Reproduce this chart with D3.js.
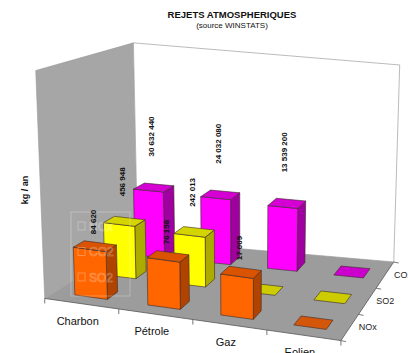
<!DOCTYPE html>
<html><head><meta charset="utf-8">
<script src="https://cdn.jsdelivr.net/npm/d3@7/dist/d3.min.js"></script>
<style>html,body{margin:0;padding:0;background:#fff;}svg{display:block;font-family:"Liberation Sans",Arial,sans-serif;}</style>
</head><body>
<script>
// ---- data ----
const categories = ["Charbon", "Pétrole", "Gaz", "Eolien"];
const seriesNames = ["NOx", "SO2", "CO2"];
const noxValues = [84620, 76158, 17009, 0];
const so2Values = [456948, 242013, 0, 0];
const co2Values = [30632440, 24032080, 13539200, 0];
const legendLabels = ["NOx", "CO2", "SO2"];
const title = "REJETS ATMOSPHERIQUES";
const subtitle = "(source WINSTATS)";
const yTitle = "kg / an";

const seriesValues = [noxValues, so2Values, co2Values];

// ---- layout ----
const W = 408, H = 353;
const svg = d3.select("body").append("svg").attr("width", W).attr("height", H);

const A00 = [75, 295], A10 = [294, 325], A01 = [135, 255], A11 = [334, 275];
function floorPt(s, t) {
  const x = A00[0] + s * (A10[0] - A00[0]) + t * (A01[0] - A00[0]) + s * t * (A11[0] - A10[0] - A01[0] + A00[0]);
  const y = A00[1] + s * (A10[1] - A00[1]) + t * (A01[1] - A00[1]) + s * t * (A11[1] - A10[1] - A01[1] + A00[1]);
  return [x, y];
}
const T0 = -0.16, T1 = 1.34, S0 = -0.093, S1 = 1.24;
function proj(s, t, h) {
  const [x, y] = floorPt(s, t);
  const k = 1 + 0.157 * (T1 - t) / (T1 - T0);
  const hh = h * k;
  return [x + (x - 242) * 0.0002 * hh, y - hh];
}
const xBand = d3.scaleBand().domain(categories).range([S0, S1]).paddingInner(0.555).paddingOuter(0.2775);
const zBand = d3.scaleBand().domain(seriesNames).range([T0, T1]).paddingInner(0.64).paddingOuter(0.32);
const yScale = d3.scaleLog().domain([1, 1e8]).range([0, 68]).clamp(true);
const wallH = 197;
const hOf = v => v > 0 ? yScale(v) : 0;

const colors = {
  NOx: {front: "#FF6600", top: "#D95300", side: "#B04300", flat: "#D4560A"},
  SO2: {front: "#FFFF00", top: "#D4D400", side: "#ABAB00", flat: "#CCCC00"},
  CO2: {front: "#FF00FF", top: "#D400D4", side: "#A000A0", flat: "#CC00CC"}
};
const line = d3.line();
const poly = pts => line(pts) + "Z";

// walls and floor
const g = svg.append("g");
g.append("path").attr("d", poly([proj(S0, T0, 0), proj(S0, T1, 0), proj(S0, T1, wallH), proj(S0, T0, wallH)]))
  .attr("fill", "#a6a6a6").attr("stroke", "#999").attr("stroke-width", 0.6);
g.append("path").attr("d", poly([proj(S0, T1, 0), proj(S1, T1, 0), proj(S1, T1, wallH), proj(S0, T1, wallH)]))
  .attr("fill", "#ffffff").attr("stroke", "#aaa").attr("stroke-width", 0.8);
g.append("path").attr("d", poly([proj(S0, T0, 0), proj(S1, T0, 0), proj(S1, T1, 0), proj(S0, T1, 0)]))
  .attr("fill", "#9c9c9c").attr("stroke", "none");
g.append("path").attr("d", line([proj(S0, T0, 0), proj(S1, T0, 0), proj(S1, T1, 0)]))
  .attr("fill", "none").attr("stroke", "#555").attr("stroke-width", 0.8);
const sTicks = categories.map(c => xBand(c) - xBand.step() * xBand.paddingInner() / 2).concat([S1]);
sTicks.forEach(s => {
  const p = proj(s, T0, 0);
  g.append("line").attr("x1", p[0]).attr("y1", p[1]).attr("x2", p[0]).attr("y2", p[1] + 5)
    .attr("stroke", "#555").attr("stroke-width", 0.8);
});
const tTicks = seriesNames.map(n => zBand(n) - zBand.step() * zBand.paddingInner() / 2).concat([T1]);
tTicks.forEach(t => {
  const p = proj(S1, t, 0);
  g.append("line").attr("x1", p[0]).attr("y1", p[1]).attr("x2", p[0] + 5).attr("y2", p[1] + 1)
    .attr("stroke", "#555").attr("stroke-width", 0.8);
});

// bars, back row first
const bars = svg.append("g");
const strokeC = "#3a2a2a", strokeW = 0.6;
for (let j = seriesNames.length - 1; j >= 0; j--) {
  const name = seriesNames[j];
  const c = colors[name];
  const t0 = zBand(name), t1 = t0 + zBand.bandwidth();
  categories.forEach((cat, i) => {
    const v = seriesValues[j][i];
    const s0 = xBand(cat), s1 = s0 + xBand.bandwidth();
    const h = hOf(v);
    const face = (pts, fill) => bars.append("path").attr("d", poly(pts)).attr("fill", fill)
      .attr("stroke", strokeC).attr("stroke-width", strokeW).attr("stroke-linejoin", "round");
    if (h <= 0) {
      face([proj(s0, t0, 0), proj(s1, t0, 0), proj(s1, t1, 0), proj(s0, t1, 0)], c.flat);
      return;
    }
    face([proj(s1, t0, 0), proj(s1, t1, 0), proj(s1, t1, h), proj(s1, t0, h)], c.side);
    face([proj(s0, t0, 0), proj(s1, t0, 0), proj(s1, t0, h), proj(s0, t0, h)], c.front);
    face([proj(s0, t0, h), proj(s1, t0, h), proj(s1, t1, h), proj(s0, t1, h)], c.top);
  });
}

// faint ghost legend
const lg = svg.append("g").attr("opacity", 0.35);
lg.append("rect").attr("x", 71).attr("y", 212).attr("width", 59).attr("height", 84)
  .attr("fill", "none").attr("stroke", "#ffffff").attr("stroke-width", 0.8);
legendLabels.forEach((l, i) => {
  const y = 222 + i * 25.5;
  lg.append("rect").attr("x", 78).attr("y", y).attr("width", 7).attr("height", 8)
    .attr("fill", "none").attr("stroke", "#ffffff").attr("stroke-width", 0.8);
  lg.append("text").attr("x", 89).attr("y", y + 8.5).text(l)
    .attr("font-size", 12).attr("fill", "none").attr("stroke", "#ffffff").attr("stroke-width", 0.6);
});

// value labels
const fmt = v => d3.format(",")(v).replace(/,/g, " ");
const labelGap = {NOx: 12, SO2: 25, CO2: 31};
const labels = svg.append("g");
seriesNames.forEach((name, j) => {
  const tc = zBand(name) + zBand.bandwidth() / 2;
  categories.forEach((cat, i) => {
    const v = seriesValues[j][i];
    if (!(v > 0)) return;
    const sc = xBand(cat) + xBand.bandwidth() / 2;
    const p = proj(sc, tc, hOf(v));
    const x = p[0] - 2, y = p[1] - labelGap[name];
    labels.append("text").attr("transform", `translate(${x},${y}) rotate(-90)`)
      .attr("dominant-baseline", "central").attr("font-size", 8).attr("font-weight", "bold")
      .attr("fill", "#111").text(fmt(v));
  });
});

// category labels
categories.forEach(cat => {
  const p = proj(xBand(cat) + xBand.bandwidth() / 2, T0, 0);
  svg.append("text").attr("x", p[0] - 4).attr("y", p[1] + 17).attr("text-anchor", "middle")
    .attr("dominant-baseline", "central").attr("font-size", 11).attr("fill", "#111").text(cat);
});
// series (depth) labels
seriesNames.forEach(name => {
  const p = proj(S1, zBand(name) + zBand.bandwidth() / 2, 0);
  svg.append("text").attr("x", p[0] + 9).attr("y", p[1]).attr("dominant-baseline", "central")
    .attr("font-size", 9).attr("fill", "#222").text(name);
});

// titles
svg.append("text").attr("x", 232).attr("y", 18).attr("text-anchor", "middle")
  .attr("font-size", 9.5).attr("font-weight", "bold").attr("fill", "#111").text(title);
svg.append("text").attr("x", 232).attr("y", 28).attr("text-anchor", "middle")
  .attr("font-size", 8).attr("fill", "#111").text(subtitle);
svg.append("text").attr("transform", "translate(25,190) rotate(-90)").attr("text-anchor", "middle")
  .attr("dominant-baseline", "central").attr("font-size", 9).attr("font-weight", "bold").attr("fill", "#111").text(yTitle);
</script>
</body></html>
